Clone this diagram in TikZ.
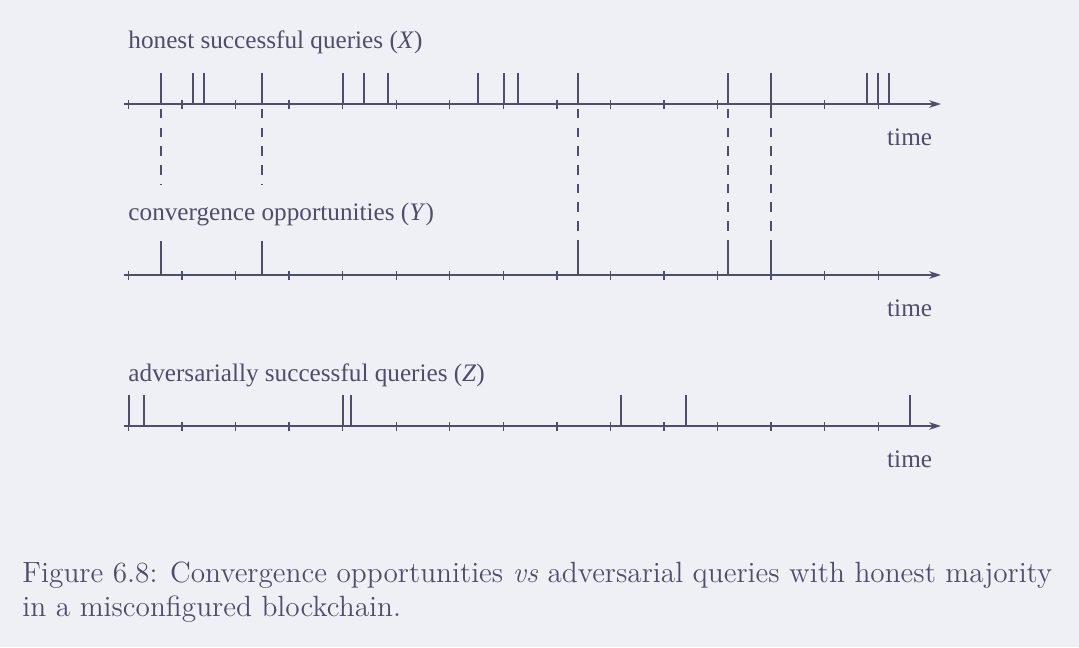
\documentclass[tikz,border=0pt]{standalone}
\usepackage{fontspec}
\usetikzlibrary{arrows.meta}
\newfontfamily\labfont{Liberation Serif}
\definecolor{bgc}{RGB}{239,240,245}
\definecolor{ink}{RGB}{76,78,106}
\tikzset{
  axisline/.style={draw=ink, line width=0.55pt, -{Stealth[length=5pt,width=3.2pt]}},
  tickmark/.style={draw=ink, line width=0.55pt},
  evt/.style={draw=ink, line width=1.2pt},
  link/.style={draw=ink, line width=1pt, dash pattern=on 4pt off 3.8pt, dash phase=5.8pt},
  lab/.style={font=\labfont\fontsize{10.5}{12}\selectfont, text=ink, inner sep=0pt},
  captext/.style={font=\fontsize{12.2}{14.3}\selectfont, text=ink, inner sep=0pt, align=left}
}
\begin{document}
\begin{tikzpicture}[x=0.416667pt, y=-0.416667pt]
\fill[bgc] (0,0) rectangle (1079,647);
\useasboundingbox (0,0) rectangle (1079,647);
% axes
\foreach \ay/\nm in {104/A, 275/B, 426/C}{
  \coordinate (\nm s) at (124,\ay);
  \coordinate (\nm e) at (941,\ay);
  \draw[axisline] (\nm s) -- (\nm e);
  \foreach \k in {0,...,14}{
    \draw[tickmark] (128.5+53.55*\k,\ay-4) -- (128.5+53.55*\k,\ay+4.5);
  }
  \node[lab, anchor=base east] (time\nm) at (932.5,\ay+41) {time};
}
% labels
\node[lab, anchor=base west] (labX) at (128,48.5) {honest successful queries (\textit{X}\/)};
\node[lab, anchor=base west] (labY) at (128,220) {convergence opportunities (\textit{Y}\/)};
\node[lab, anchor=base west] (labZ) at (128,381.5) {adversarially successful queries (\textit{Z}\/)};
% honest events
\foreach \x in {161,193,204,262,343,364,388,478,504,518,578,728,771,867,878,889}{
  \draw[evt] (\x,73) -- (\x,104);
}
% convergence events
\foreach \x in {161,262,578,728,771}{
  \draw[evt] (\x,241) -- (\x,275);
}
% adversarial events
\foreach \x in {129,144,343,351,621,686,910}{
  \draw[evt] (\x,395) -- (\x,426);
}
% dashed links
\foreach \x in {161,262}{
  \coordinate (u\x) at (\x,104);
  \coordinate (d\x) at (\x,184);
  \draw[link] (u\x) -- (d\x);
}
\foreach \x in {578,728,771}{
  \coordinate (u\x) at (\x,104);
  \coordinate (d\x) at (\x,244);
  \draw[link] (u\x) -- (d\x);
}
% caption
\node[captext, anchor=base west] (caption) at (22,616.7) {Figure 6.8: Convergence opportunities \emph{vs} adversarial queries with honest majority\\in a misconfigured blockchain.};
\end{tikzpicture}
\end{document}
